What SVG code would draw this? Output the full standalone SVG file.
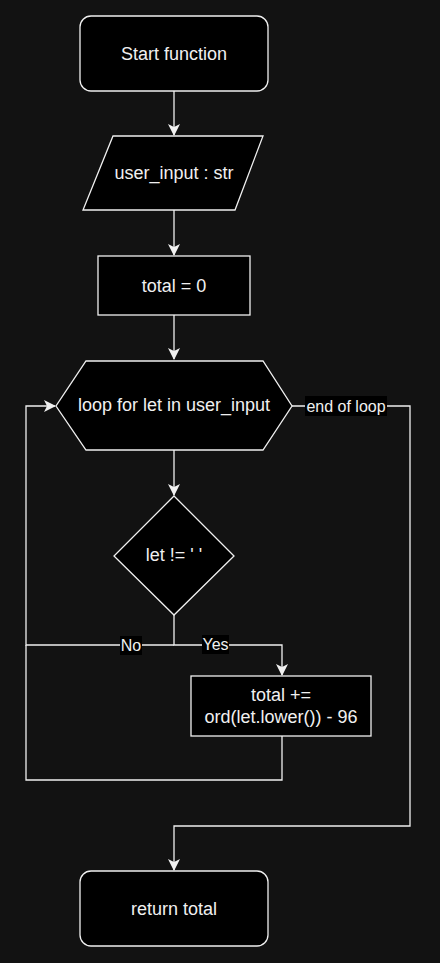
<svg xmlns="http://www.w3.org/2000/svg" width="440" height="963" viewBox="0 0 440 963">
<defs>
<marker id="arr" viewBox="0 0 12 12" refX="11" refY="6" markerWidth="12" markerHeight="12" markerUnits="userSpaceOnUse" orient="auto">
<path d="M0,0 L12,6 L0,12 L3,6 Z" fill="#f0f0f0"/>
</marker>
</defs>
<style>
.n{fill:#000;stroke:#f0f0f0;stroke-width:1.3}
.t{font-family:"Liberation Sans",Arial,sans-serif;font-size:18px;fill:#f0f0f0;text-anchor:middle;dominant-baseline:central}
.l{font-family:"Liberation Sans",Arial,sans-serif;font-size:16px;fill:#f0f0f0;text-anchor:middle;dominant-baseline:central}
.e{fill:none;stroke:#f0f0f0;stroke-width:1.3}
</style>
<rect width="440" height="963" fill="#121212"/>
<g id="connectors">
<path class="e" d="M174,91 V135" marker-end="url(#arr)"/>
<path class="e" d="M174,210 V255" marker-end="url(#arr)"/>
<path class="e" d="M174,315 V359" marker-end="url(#arr)"/>
<path class="e" d="M174,450 V495" marker-end="url(#arr)"/>
<path class="e" d="M174,615 V645 H282 V675" marker-end="url(#arr)"/>
<path class="e" d="M174,645 H26 V406 H55" marker-end="url(#arr)"/>
<path class="e" d="M282,736 V780 H26 V645"/>
<path class="e" d="M292,406 H410 V826 H174 V870" marker-end="url(#arr)"/>
<rect x="120" y="636" width="22" height="19" fill="#000"/>
<text class="l" x="131" y="645.5">No</text>
<rect x="202" y="635" width="27" height="19" fill="#000"/>
<text class="l" x="215.5" y="644.5">Yes</text>
<rect x="305" y="396" width="82" height="20" fill="#000"/>
<text class="l" x="346" y="406">end of loop</text>
</g>
<g id="start">
<rect class="n" x="80" y="16" width="188" height="75" rx="11"/>
<text class="t" x="174" y="53.5">Start function</text>
</g>
<g id="input">
<polygon class="n" points="113,136 263,136 235,210 83,210"/>
<text class="t" x="174" y="173">user_input : str</text>
</g>
<g id="init">
<rect class="n" x="98" y="256" width="152" height="59"/>
<text class="t" x="174" y="285.5">total = 0</text>
</g>
<g id="loop">
<polygon class="n" points="86,361 263,361 292,406 263,450 86,450 56,406"/>
<text class="t" x="174" y="405">loop for let in user_input</text>
</g>
<g id="cond">
<polygon class="n" points="174,496 234,556 174,615 114,556"/>
<text class="t" x="174" y="555">let != ' '</text>
</g>
<g id="add">
<rect class="n" x="191" y="676" width="180" height="60"/>
<text class="t" x="281" y="695">total +=</text>
<text class="t" x="281" y="717">ord(let.lower()) - 96</text>
</g>
<g id="end">
<rect class="n" x="80" y="871" width="188" height="75" rx="11"/>
<text class="t" x="174" y="908.5">return total</text>
</g>
</svg>
